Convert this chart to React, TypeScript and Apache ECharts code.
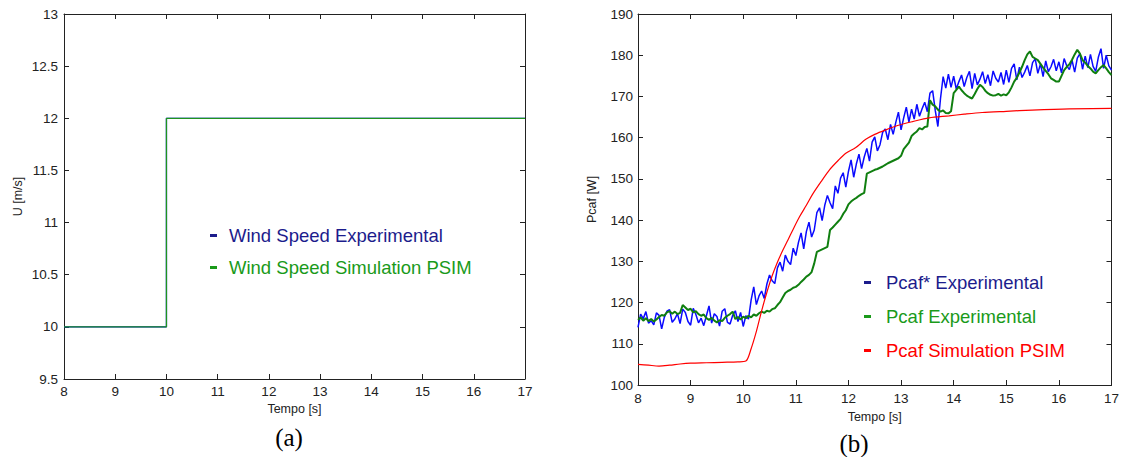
import React, { useEffect, useRef } from "react";
import * as echarts from "echarts";

// ---- Data ----
const T0 = 8;
const DT = 0.05;

// Left chart: wind speed step (m/s)
const windExp: number[][] = [[8, 10], [10, 12], [17, 12]];
const windSim: number[][] = [[8, 10], [10, 12], [17, 12]];

// Right chart: Pcaf* experimental (W), sampled every 0.05 s from 8 s to 17 s
const pcafStarExp: number[] = [
  114.0, 117.2, 116.1, 117.8, 115.0, 115.6, 114.6, 117.5, 116.9, 113.6, 116.4, 117.9, 118.3, 115.2, 116.0, 117.3, 114.9, 118.4, 117.6, 115.4,
  114.5, 118.6, 117.1, 115.1, 116.2, 114.4, 116.8, 119.2, 115.0, 117.3, 116.6, 114.3, 117.9, 118.5, 115.2, 114.8, 116.9, 118.0, 115.4, 117.6,
  114.2, 116.8, 116.0, 120.6, 123.8, 119.5, 121.6, 122.8, 121.0, 124.5, 126.7, 125.3, 124.6, 128.4, 129.8, 127.6, 131.5, 130.0, 129.2, 133.2,
  131.4, 134.6, 136.9, 133.0, 137.2, 139.5, 135.9, 137.6, 141.8, 143.0, 139.9, 143.6, 146.0, 144.2, 142.8, 148.3, 146.5, 150.2, 151.5, 148.0,
  151.8, 154.6, 150.4, 153.6, 156.0, 152.5, 155.3, 157.4, 154.3, 158.9, 160.2, 156.8, 158.3, 161.3, 162.1, 159.5, 163.2, 160.8, 163.7, 166.2,
  161.9, 164.8, 167.4, 163.8, 166.9, 164.5, 168.1, 165.2, 167.0, 168.6, 166.3, 170.8, 171.4, 166.6, 162.7, 169.5, 174.8, 172.0, 175.4, 172.2,
  174.9, 171.8, 173.6, 175.2, 172.4, 174.6, 176.1, 171.9, 175.6, 172.8, 174.2, 176.0, 173.1, 175.3, 172.6, 176.2, 174.4, 173.5, 175.8, 172.9,
  176.4, 173.4, 176.8, 177.9, 174.0, 177.1, 174.6, 175.9, 177.5, 175.0, 178.2, 179.1, 175.6, 177.9, 174.8, 178.6, 176.0, 177.2, 179.0, 176.2,
  178.4, 175.7, 179.2, 177.4, 176.5, 178.8, 175.9, 179.3, 180.4, 176.6, 179.8, 177.0, 180.2, 177.3, 176.1, 179.5, 181.6, 176.8, 180.0, 177.4,
  176.4,
];

// Pcaf experimental (W), same sampling
const pcafExp: number[] = [
  115.8, 116.4, 115.6, 116.2, 115.5, 116.0, 115.4, 115.9, 116.5, 117.0, 116.8, 117.6, 117.9, 117.3, 117.8, 117.2, 117.5, 119.4, 118.8, 118.2,
  118.5, 117.6, 117.9, 117.2, 116.8, 117.1, 116.2, 115.8, 116.3, 115.6, 115.2, 115.7, 115.5, 116.3, 116.8, 117.2, 117.8, 116.0, 116.5, 115.9,
  116.6, 116.2, 116.8, 116.4, 117.1, 116.8, 117.4, 117.8, 117.5, 118.0, 117.8, 118.4, 118.6, 119.4, 120.1, 121.2, 122.3, 122.8, 123.1, 123.6,
  123.8, 124.3, 125.0, 125.6, 126.3, 126.7, 127.4, 129.5, 132.3, 132.6, 132.9, 133.2, 133.5, 137.6, 138.2, 138.9, 139.6, 140.3, 141.5, 142.4,
  143.8, 144.5, 145.0, 145.4, 145.9, 146.3, 146.6, 151.3, 151.6, 151.9, 152.2, 152.4, 152.7, 153.0, 153.4, 153.8, 154.1, 154.4, 154.7, 155.0,
  155.6, 157.2, 158.0, 158.8, 160.4, 161.0, 161.5, 162.3, 162.0, 162.6, 162.7, 169.1, 168.0, 167.6, 166.8, 166.3, 166.6, 166.0, 165.9, 166.4,
  170.8, 171.6, 172.4, 171.5, 170.8, 170.2, 169.8, 169.5, 170.6, 171.8, 172.8, 172.3, 171.4, 170.8, 170.4, 170.2, 170.3, 170.6, 170.2, 170.5,
  170.3, 171.0, 172.2, 173.6, 174.5, 175.8, 177.2, 178.8, 180.2, 180.9, 179.6, 179.2, 178.8, 177.9, 177.0, 176.2, 175.4, 174.4, 174.0, 173.6,
  173.6, 175.0, 176.4, 177.2, 177.8, 178.9, 180.2, 181.3, 180.4, 178.8, 178.2, 177.4, 176.8, 176.0, 175.6, 176.4, 177.1, 177.6, 176.8, 175.9,
  175.2,
];

// Pcaf simulation PSIM (time s, W)
const pcafSim: number[][] = [
  [8, 105.0], [8.2, 104.8], [8.4, 104.6], [8.6, 104.8], [8.8, 105.1], [9, 105.3], [9.3, 105.4], [9.6, 105.5],
  [9.9, 105.6], [10.05, 105.8], [10.15, 108.8], [10.25, 113.0], [10.35, 118.0], [10.45, 122.5], [10.55, 126.5],
  [10.65, 129.8], [10.75, 132.6], [10.85, 135.2], [10.95, 137.8], [11.07, 140.8], [11.2, 143.6], [11.32, 146.3],
  [11.5, 149.7], [11.64, 152.2], [11.8, 154.4], [11.95, 156.2], [12.14, 157.6], [12.33, 159.6], [12.5, 160.8],
  [12.71, 161.9], [12.95, 163.0], [13.22, 163.9], [13.53, 164.8], [13.91, 165.3], [14.2, 165.7], [14.54, 166.1],
  [15, 166.4], [15.49, 166.7], [16.2, 167.0], [17, 167.1],
];

const FONT = "'Liberation Sans', Arial, Helvetica, sans-serif";
const AXIS_COLOR = "#222";
const NAVY = "#1c1c8c";
const LEG_GREEN = "#1a9a1a";
const RED = "#ff0000";

function mkX(grid: number, pos: "bottom" | "top", showName: boolean, labelMargin: number, nameGap: number) {
  return {
    gridIndex: grid,
    type: "value",
    position: pos,
    min: 8,
    max: 17,
    interval: 1,
    name: showName ? "Tempo [s]" : "",
    nameLocation: "middle",
    nameGap,
    nameTextStyle: { fontFamily: FONT, fontSize: 12.5, color: AXIS_COLOR },
    axisLine: { show: true, onZero: false, lineStyle: { color: AXIS_COLOR, width: 1 } },
    axisTick: { show: true, inside: true, length: 5, lineStyle: { color: AXIS_COLOR } },
    axisLabel: { show: pos === "bottom", margin: labelMargin, fontFamily: FONT, fontSize: 13.5, color: AXIS_COLOR },
    splitLine: { show: false },
  };
}

function mkY(grid: number, pos: "left" | "right", min: number, max: number, interval: number, name: string, nameGap: number, labelMargin: number) {
  return {
    gridIndex: grid,
    type: "value",
    position: pos,
    min,
    max,
    interval,
    name,
    nameLocation: "middle",
    nameGap,
    nameTextStyle: { fontFamily: FONT, fontSize: 12.5, color: AXIS_COLOR },
    axisLine: { show: true, onZero: false, lineStyle: { color: AXIS_COLOR, width: 1 } },
    axisTick: { show: true, inside: true, length: 5, lineStyle: { color: AXIS_COLOR } },
    axisLabel: { show: pos === "left", margin: labelMargin, fontFamily: FONT, fontSize: 13.5, color: AXIS_COLOR },
    splitLine: { show: false },
  };
}

export default function App() {
  const ref = useRef<HTMLDivElement>(null);

  useEffect(() => {
    document.body.style.margin = "0";
    if (!ref.current) return;
    const chart = echarts.init(ref.current, undefined, { renderer: "svg" });

    const starData = pcafStarExp.map((v, i) => [T0 + i * DT, v]);
    const expData = pcafExp.map((v, i) => [T0 + i * DT, v]);

    chart.setOption({
      animation: false,
      backgroundColor: "#ffffff",
      grid: [
        { left: 64, top: 14, width: 461, height: 365 },
        { left: 638, top: 14, width: 475, height: 371 },
      ],
      xAxis: [
        mkX(0, "bottom", true, 5, 23),
        mkX(0, "top", false, 5, 0),
        mkX(1, "bottom", true, 6, 25),
        mkX(1, "top", false, 5, 0),
      ],
      yAxis: [
        mkY(0, "left", 9.5, 13, 0.5, "U [m/s]", 40, 6),
        mkY(0, "right", 9.5, 13, 0.5, "", 0, 6),
        mkY(1, "left", 100, 190, 10, "Pcaf [W]", 40, 5),
        mkY(1, "right", 100, 190, 10, "", 0, 5),
      ],
      legend: [
        {
          orient: "vertical",
          left: 205,
          top: 221,
          itemWidth: 7,
          itemHeight: 3,
          itemGap: 13,
          icon: "rect",
          selectedMode: false,
          textStyle: { fontFamily: FONT, fontSize: 18.5, padding: [0, 0, 0, 7] },
          data: [
            { name: "Wind Speed Experimental", itemStyle: { color: NAVY }, textStyle: { color: NAVY } },
            { name: "Wind Speed Simulation PSIM", itemStyle: { color: LEG_GREEN }, textStyle: { color: LEG_GREEN } },
          ],
        },
        {
          orient: "vertical",
          left: 859,
          top: 268,
          itemWidth: 7,
          itemHeight: 3,
          itemGap: 15,
          icon: "rect",
          selectedMode: false,
          textStyle: { fontFamily: FONT, fontSize: 18.5, padding: [0, 0, 0, 10] },
          data: [
            { name: "Pcaf* Experimental", itemStyle: { color: NAVY }, textStyle: { color: NAVY } },
            { name: "Pcaf Experimental", itemStyle: { color: LEG_GREEN }, textStyle: { color: LEG_GREEN } },
            { name: "Pcaf Simulation PSIM", itemStyle: { color: RED }, textStyle: { color: RED } },
          ],
        },
      ],
      graphic: [
        {
          type: "text",
          x: 289,
          y: 437,
          style: {
            text: "(a)",
            font: "25px 'Liberation Serif', 'Times New Roman', serif",
            fill: "#000",
            textAlign: "center",
            textVerticalAlign: "middle",
          },
        },
        {
          type: "text",
          x: 854,
          y: 443,
          style: {
            text: "(b)",
            font: "25px 'Liberation Serif', 'Times New Roman', serif",
            fill: "#000",
            textAlign: "center",
            textVerticalAlign: "middle",
          },
        },
      ],
      series: [
        {
          name: "Wind Speed Experimental",
          type: "line",
          xAxisIndex: 0,
          yAxisIndex: 0,
          step: "end",
          data: windExp,
          showSymbol: false,
          lineStyle: { color: "#0000ff", width: 1.3 },
          itemStyle: { color: NAVY },
        },
        {
          name: "Wind Speed Simulation PSIM",
          type: "line",
          xAxisIndex: 0,
          yAxisIndex: 0,
          step: "end",
          data: windSim,
          showSymbol: false,
          lineStyle: { color: "#1e941e", width: 1.3 },
          itemStyle: { color: LEG_GREEN },
        },
        {
          name: "Pcaf* Experimental",
          type: "line",
          xAxisIndex: 2,
          yAxisIndex: 2,
          data: starData,
          showSymbol: false,
          lineStyle: { color: "#0a0aff", width: 1.5 },
          itemStyle: { color: NAVY },
        },
        {
          name: "Pcaf Experimental",
          type: "line",
          xAxisIndex: 2,
          yAxisIndex: 2,
          data: expData,
          showSymbol: false,
          lineStyle: { color: "#107f10", width: 2 },
          itemStyle: { color: LEG_GREEN },
        },
        {
          name: "Pcaf Simulation PSIM",
          type: "line",
          xAxisIndex: 2,
          yAxisIndex: 2,
          data: pcafSim,
          smooth: 0.3,
          showSymbol: false,
          lineStyle: { color: RED, width: 1.2 },
          itemStyle: { color: RED },
        },
      ],
    });

    return () => {
      chart.dispose();
    };
  }, []);

  return <div ref={ref} style={{ width: 1122, height: 457 }} />;
}
